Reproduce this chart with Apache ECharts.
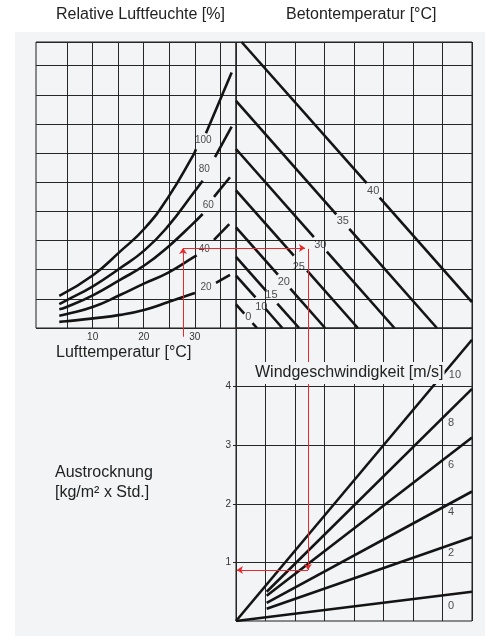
<!DOCTYPE html>
<html>
<head>
<meta charset="utf-8">
<title>Nomogramm Austrocknung</title>
<script src="https://cdn.jsdelivr.net/npm/echarts@6/dist/echarts.min.js"></script>
<style>
  html, body { margin: 0; padding: 0; background: #fff; }
  #chart { width: 485px; height: 636px; }
</style>
</head>
<body>
<div id="chart"></div>
<script>
// Lufttemperatur [°C]: Gitterlinien und Beschriftung
const airTempGrid = [5, 10, 15, 20, 25, 30, 35]
const airTempLabels = [10, 20, 30]
// Austrocknung [kg/m2 x Std.]
const rateLabels = [1, 2, 3, 4]

// relative Luftfeuchte: [Lufttemp, Zeile], unter und ueber der Beschriftung
const rh100 = [[3.46, 1.10], [10.12, 1.82], [15.35, 2.62], [20.24, 3.43], [24.81, 4.49], [29.70, 5.93], [30.23, 6.13]]
const rh100Top = [[32.19, 6.68], [37.22, 8.76]]
const rh80 = [[3.46, 0.82], [4.77, 0.94], [10.12, 1.44], [15.35, 2.05], [20.24, 2.68], [24.81, 3.50], [29.70, 4.62], [31.54, 5.05]]
const rh80Top = [[33.95, 5.86], [37.22, 6.91]]
const rh60 = [[3.46, 0.64], [4.77, 0.71], [10.12, 1.13], [15.35, 1.65], [20.24, 2.16], [24.81, 2.79], [29.70, 3.59], [31.54, 3.91]]
const rh60Top = [[33.76, 4.50], [36.89, 5.17]]
const rh40 = [[3.46, 0.42], [4.77, 0.47], [10.12, 0.73], [15.35, 1.13], [20.24, 1.54], [24.81, 1.90], [29.70, 2.42], [30.37, 2.49]]
const rh40Top = [[33.76, 3.02], [36.75, 3.56]]
const rh20 = [[3.46, 0.21], [4.77, 0.23], [10.12, 0.33], [15.35, 0.45], [20.24, 0.63], [24.81, 0.89], [29.70, 1.18], [30.04, 1.20]]
const rh20Top = [[34.15, 1.55], [36.89, 1.82]]
const rhLabels = [['100', 31.66, 6.45], ['80', 31.86, 5.44], ['60', 32.64, 4.22], ['40', 31.86, 2.70], ['20', 32.19, 1.40]]

// Betontemperatur: Anfang, Luecke (2 Punkte), Ende  [Spalte, Zeile]
const beton0 = [[0, 0.81], [0.28, 0.49], [0.56, 0.17], [0.71, 0]]
const beton10 = [[0, 1.80], [0.66, 1.05], [1.00, 0.66], [1.57, 0]]
const beton15 = [[0, 2.44], [1.02, 1.27], [1.40, 0.84], [2.14, 0]]
const beton20 = [[0, 3.45], [1.42, 1.83], [1.84, 1.35], [3.02, 0]]
const beton25 = [[0, 4.72], [1.96, 2.48], [2.41, 1.97], [4.13, 0]]
const beton30 = [[0, 6.14], [2.64, 3.12], [3.08, 2.62], [5.37, 0]]
const beton35 = [[0, 7.79], [3.40, 3.90], [3.84, 3.40], [6.81, 0]]
const beton40 = [[0.19, 9.81], [4.43, 4.97], [4.87, 4.47], [8, 0.89]]
const betonLabels = [['0', 0.42, 0.39], ['10', 0.86, 0.73], ['15', 1.20, 1.13], ['20', 1.62, 1.57],
  ['25', 2.13, 2.08], ['30', 2.86, 2.85], ['35', 3.62, 3.68], ['40', 4.65, 4.71]]

// Windgeschwindigkeit [m/s]: [Spalte, Austrocknung]
const wind0 = [[0, 0], [8, 0.50]]
const wind2 = [[1.04, 0.21], [8, 1.43]]
const wind4 = [[1.04, 0.31], [8, 2.21]]
const wind6 = [[1.04, 0.43], [8, 3.13]]
const wind8 = [[1.04, 0.50], [8, 3.96]]
const wind10 = [[0, 0], [8, 4.80]]
const windLabels = [['10', 7.42, 4.20], ['8', 7.29, 3.38], ['6', 7.29, 2.67], ['4', 7.29, 1.855], ['2', 7.29, 1.155], ['0', 7.29, 0.26]]

// Beispiel (rot): 28 °C -> 40 % -> Beton -> Wind -> Austrocknung
const exampleUp = [[27.7, -0.3], [27.7, 2.74]]
const exampleRight = [[-1.8, 2.74], [2.34, 2.74]]
const exampleDown = [[2.44, 6.35], [2.44, 0.87]]
const exampleLeft = [[2.44, 0.87], [0.03, 0.87]]

const font = '"Liberation Sans", Arial, Helvetica, sans-serif'
const ink = '#141414'
const panel = '#f3f4f6'
const gridColor = '#262626'
const red = '#e8282b'

function curve(data, grid) {
  return {
    type: 'line', xAxisIndex: grid, yAxisIndex: grid, data: data,
    smooth: 0.5, showSymbol: false, silent: true, z: 3,
    lineStyle: { color: ink, width: 2.6 },
  }
}
function straight(list, grid) {
  // jede Punktreihe: aufeinanderfolgende Paare = ein Strich
  const segs = []
  list.forEach((pts) => {
    for (let i = 0; i < pts.length - 1; i += 2) segs.push({ coords: [pts[i], pts[i + 1]] })
  })
  return {
    type: 'lines', coordinateSystem: 'cartesian2d', xAxisIndex: grid, yAxisIndex: grid,
    data: segs, silent: true, z: 3, lineStyle: { color: ink, width: 2.6, opacity: 1 },
  }
}
function labels(list, grid, size) {
  return {
    type: 'scatter', xAxisIndex: grid, yAxisIndex: grid, symbolSize: 0, silent: true, z: 4,
    data: list.map(l => ({ name: l[0], value: [l[1], l[2]] })),
    label: { show: true, position: 'inside', formatter: p => p.name, color: '#222', fontSize: size, fontFamily: font },
  }
}
function arrow(data, grid) {
  return {
    type: 'lines', coordinateSystem: 'cartesian2d', xAxisIndex: grid, yAxisIndex: grid,
    data: [{ coords: data }], clip: false, silent: true, z: 5,
    symbol: ['none', 'arrow'], symbolSize: 6,
    lineStyle: { color: red, width: 1, opacity: 1 },
  }
}

const split = { show: true, lineStyle: { color: gridColor, width: 1 } }
const hidden = { show: false }
const border = { show: true, borderColor: '#1e1e1e', borderWidth: 1, backgroundColor: 'transparent', outerBoundsMode: 'none' }

const chart = echarts.init(document.getElementById('chart'), null, { renderer: 'canvas' })
chart.setOption({
  animation: false,
  backgroundColor: '#fff',
  grid: [
    Object.assign({ left: 36, top: 42, width: 200, height: 286 }, border),
    Object.assign({ left: 236, top: 42, width: 236, height: 286 }, border),
    Object.assign({ left: 236, top: 328, width: 236, height: 293 }, border),
  ],
  xAxis: [
    {
      gridIndex: 0, type: 'value', min: -1.1, max: 38.07,
      axisLine: hidden, axisTick: hidden, splitLine: hidden,
      axisLabel: { customValues: airTempLabels, margin: 4, fontSize: 10, color: '#333', fontFamily: font },
    },
    { gridIndex: 1, type: 'value', min: 0, max: 8, interval: 1, axisLine: hidden, axisTick: hidden, axisLabel: hidden, splitLine: split },
    { gridIndex: 2, type: 'value', min: 0, max: 8, interval: 1, axisLine: hidden, axisTick: hidden, axisLabel: hidden, splitLine: split },
  ],
  yAxis: [
    { gridIndex: 0, type: 'value', min: 0, max: 9.81, interval: 1, axisLine: hidden, axisTick: hidden, axisLabel: hidden, splitLine: split },
    { gridIndex: 1, type: 'value', min: 0, max: 9.81, interval: 1, axisLine: hidden, axisTick: hidden, axisLabel: hidden, splitLine: split },
    {
      gridIndex: 2, type: 'value', min: 0, max: 5, interval: 0.5,
      axisLine: hidden, splitLine: split,
      axisTick: { show: true, customValues: rateLabels, length: 3, lineStyle: { color: gridColor } },
      axisLabel: { customValues: rateLabels, margin: 5, fontSize: 10, color: '#333', fontFamily: font },
    },
  ],
  graphic: [
    { type: 'rect', z: -10, silent: true, shape: { x: 15, y: 32, width: 470, height: 604 }, style: { fill: panel } },
    { type: 'text', z: 10, x: 56, y: 15, style: { text: 'Relative Luftfeuchte [%]', fontSize: 16, fontFamily: font, fill: '#222', verticalAlign: 'middle' } },
    { type: 'text', z: 10, x: 286, y: 15, style: { text: 'Betontemperatur [°C]', fontSize: 16, fontFamily: font, fill: '#222', verticalAlign: 'middle' } },
    { type: 'text', z: 10, x: 56, y: 353, style: { text: 'Lufttemperatur [°C]', fontSize: 16, fontFamily: font, fill: '#222', verticalAlign: 'middle' } },
    {
      type: 'text', z: 10, x: 254, y: 373,
      style: { text: 'Windgeschwindigkeit [m/s]', fontSize: 16, fontFamily: font, fill: '#222', verticalAlign: 'middle', backgroundColor: panel, padding: [3, 1] },
    },
    { type: 'text', z: 10, x: 55, y: 473, style: { text: 'Austrocknung', fontSize: 16, fontFamily: font, fill: '#222', verticalAlign: 'middle' } },
    { type: 'text', z: 10, x: 55, y: 493, style: { text: '[kg/m² x Std.]', fontSize: 16, fontFamily: font, fill: '#222', verticalAlign: 'middle' } },
  ],
  series: [
    // Gitter Lufttemperatur
    {
      type: 'lines', coordinateSystem: 'cartesian2d', xAxisIndex: 0, yAxisIndex: 0, silent: true, z: 1,
      data: airTempGrid.map(t => ({ coords: [[t, 0], [t, 9.81]] })),
      lineStyle: { color: gridColor, width: 1, opacity: 1 },
    },
    curve(rh100, 0), curve(rh100Top, 0),
    curve(rh80, 0), curve(rh80Top, 0),
    curve(rh60, 0), curve(rh60Top, 0),
    curve(rh40, 0), curve(rh40Top, 0),
    curve(rh20, 0), curve(rh20Top, 0),
    labels(rhLabels, 0, 10),
    straight([beton0, beton10, beton15, beton20, beton25, beton30, beton35, beton40], 1),
    labels(betonLabels, 1, 11),
    straight([wind0, wind2, wind4, wind6, wind8, wind10], 2),
    labels(windLabels, 2, 11),
    arrow(exampleUp, 0),
    arrow(exampleRight, 1),
    arrow(exampleDown, 2),
    arrow(exampleLeft, 2),
  ],
})
</script>
</body>
</html>
